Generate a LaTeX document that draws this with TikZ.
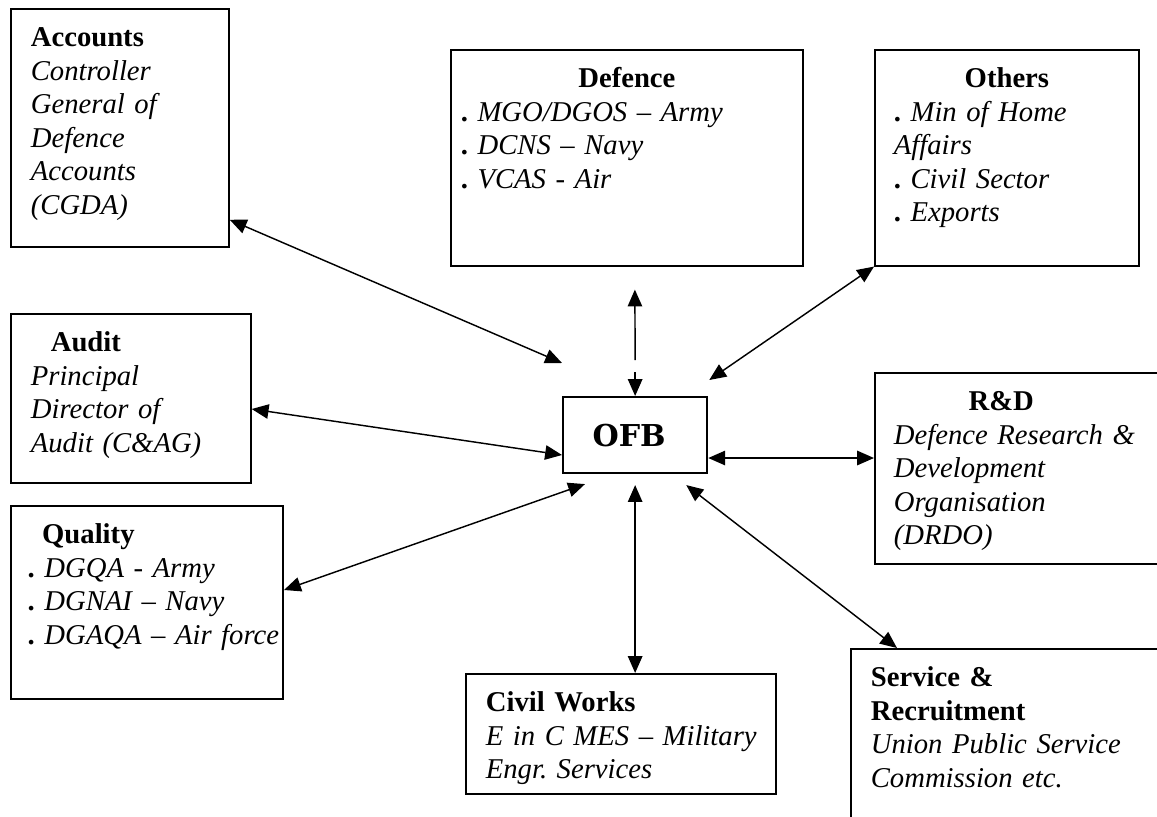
\documentclass[tikz,border=0pt]{standalone}
\usepackage{fontspec}
\setmainfont{Liberation Serif}
\newfontfamily\ofbfont{DejaVu Serif}
\usepackage{tikz}
\usetikzlibrary{arrows.meta,calc}
\tikzstyle{orgbox} = [rectangle, draw, line width=0.7pt, anchor=north west, align=left, inner xsep=8.3pt, inner ysep=6.8pt, text height=9pt, font=\fontsize{11.9}{13.9}\selectfont\itshape\frenchspacing]
\tikzstyle{hubbox} = [rectangle, draw, line width=0.9pt, anchor=north west, inner sep=0pt, minimum width=59.8pt, minimum height=31.5pt, font=\ofbfont\bfseries\fontsize{12.5}{14}\selectfont]
\tikzstyle{link} = [<->, >={Triangle[length=7pt,width=6pt]}, line width=0.6pt]
\newcommand{\orghead}[1]{\textbf{\upshape #1}}
\newcommand{\orgdot}{{\upshape\bfseries .}\ }

\begin{document}
\begin{tikzpicture}[x=0.415pt, y=-0.415pt]
\useasboundingbox (0,0) rectangle (1157,816);
\clip (0,0) rectangle (1157,816);
% Outer boxes
\node (acc) [orgbox, text width=73.9pt, text depth=76.2pt] at (10,8) {\orghead{Accounts}\\ Controller\\ General of\\ Defence\\ Accounts\\ (CGDA)};
\node (def) [orgbox, inner xsep=4.15pt, text width=137.8pt, text depth=67pt] at (450,49) {\hfill\orghead{Defence}\hfill\mbox{}\\ \orgdot MGO/DGOS -- Army\\ \orgdot DCNS -- Navy\\ \orgdot VCAS - Air};
\node (oth) [orgbox, inner xsep=7.9pt, text width=93.8pt, text depth=67pt] at (874,49) {\hfill\orghead{Others}\hfill\mbox{}\\ \orgdot Min of Home\\ Affairs\\ \orgdot Civil Sector\\ \orgdot Exports};
\node (aud) [orgbox, text width=83pt, text depth=47.5pt] at (10,313) {\hspace*{8.3pt}\orghead{Audit}\\ Principal\\ Director of\\ Audit (C\&AG)};
\node (qua) [orgbox, inner xsep=7pt, text width=99pt, text depth=57.5pt] at (10,505) {\hspace*{6pt}\orghead{Quality}\\ \orgdot DGQA - Army\\ \orgdot DGNAI -- Navy\\ \mbox{\orgdot DGAQA -- Air force}};
\node (rnd) [orgbox, inner xsep=7.9pt, text width=117pt, text depth=56.7pt] at (874,372) {\hspace*{31pt}\orghead{R\&D}\\ Defence Research \&\\ Development\\ Organisation\\ (DRDO)};
\node (civ) [orgbox, text width=112pt, text depth=27.2pt] at (465,673) {\orghead{Civil Works}\\ \mbox{E in C MES -- Military}\\ Engr. Services};
\node (svc) [orgbox, text width=124.5pt, text depth=68.7pt] at (850,648) {\orghead{Service \&}\\ \orghead{Recruitment}\\ Union Public Service\\ Commission etc.};
% Centre
\node (ofb) [hubbox] at (562,396) {\hspace*{-5pt}OFB};
\coordinate (gaptop) at ($(ofb.north)+(0,-36)$);
\coordinate (gapbot) at ($(ofb.north)+(0,-24)$);

% Arrows
\draw[link] ($(acc.south east)+(0,-28)$) -- ($(ofb.north west)+(0,-33)$);
\draw[link] ($(aud.north east)+(0,96)$) -- ($(ofb.north west)+(0,59)$);
\draw[link,->] (gaptop) -- ($(def.south)+(8,23)$);
\draw[link,->] (gapbot) -- (ofb.north);
\draw[link] (oth.south west) -- ($(ofb.north east)+(1,-16)$);
\draw[link] ($(ofb.north east)+(0,62)$) -- ($(rnd.north west)+(0,86)$);
\draw[link] ($(ofb.south west)+(23,10)$) -- ($(qua.north east)+(0,85)$);
\draw[link] ($(ofb.south)+(0,11)$) -- (civ.north -| ofb.south);
\draw[link] ($(ofb.south east)+(-22,11)$) -- ($(svc.north west)+(47,0)$);
\end{tikzpicture}
\end{document}
